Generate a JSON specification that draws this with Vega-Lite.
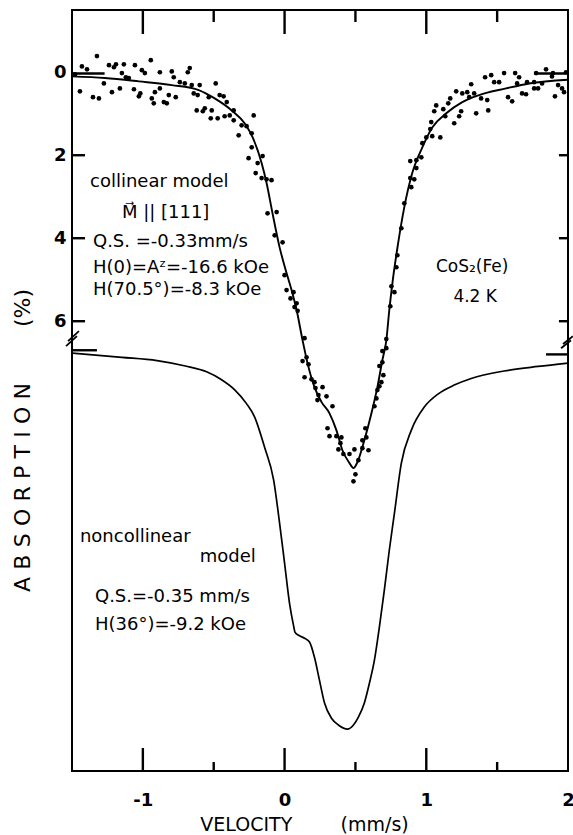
{
  "$schema": "https://vega.github.io/schema/vega-lite/v6.json",
  "width": 496,
  "height": 761,
  "autosize": {"type": "none"},
  "padding": {"left": 72, "top": 10, "right": 5, "bottom": 64},
  "background": "white",
  "config": {
    "view": {"stroke": "black", "strokeWidth": 2},
    "font": "DejaVu Sans",
    "axis": {"domain": false, "grid": false, "tickOpacity": 0, "labelColor": "black", "titleColor": "black", "labelFont": "DejaVu Sans", "titleFont": "DejaVu Sans", "titleFontWeight": "normal"},
    "text": {"font": "DejaVu Sans", "fontSize": 18, "color": "black"}
  },
  "datasets": {
    "fit": [
      {"v": -1.5, "a": 0.1}, {"v": -1.268, "a": 0.14}, {"v": -1.028, "a": 0.22}, {"v": -0.796, "a": 0.31},
      {"v": -0.606, "a": 0.43}, {"v": -0.493, "a": 0.63}, {"v": -0.373, "a": 0.92}, {"v": -0.282, "a": 1.23},
      {"v": -0.225, "a": 1.57}, {"v": -0.162, "a": 2.19}, {"v": -0.127, "a": 2.67}, {"v": -0.085, "a": 3.4},
      {"v": -0.035, "a": 4.22}, {"v": 0.014, "a": 4.84}, {"v": 0.056, "a": 5.33}, {"v": 0.085, "a": 5.73},
      {"v": 0.127, "a": 6.46}, {"v": 0.162, "a": 7.01}, {"v": 0.211, "a": 7.59}, {"v": 0.261, "a": 7.95},
      {"v": 0.317, "a": 8.22}, {"v": 0.366, "a": 8.63}, {"v": 0.408, "a": 9.11}, {"v": 0.458, "a": 9.42},
      {"v": 0.486, "a": 9.54}, {"v": 0.514, "a": 9.4}, {"v": 0.563, "a": 8.87}, {"v": 0.613, "a": 8.22},
      {"v": 0.655, "a": 7.59}, {"v": 0.69, "a": 6.94}, {"v": 0.718, "a": 6.46}, {"v": 0.739, "a": 5.73},
      {"v": 0.761, "a": 5.08}, {"v": 0.8, "a": 4.15}, {"v": 0.845, "a": 3.25}, {"v": 0.901, "a": 2.43},
      {"v": 0.972, "a": 1.81}, {"v": 1.042, "a": 1.33}, {"v": 1.141, "a": 0.99}, {"v": 1.254, "a": 0.72},
      {"v": 1.373, "a": 0.55}, {"v": 1.563, "a": 0.39}, {"v": 1.725, "a": 0.27}, {"v": 2.0, "a": 0.18}
    ],
    "measured": [
      {"v": -1.479, "a": 0.05}, {"v": -1.444, "a": 0.46}, {"v": -1.43, "a": -0.14}, {"v": -1.394, "a": -0.07},
      {"v": -1.352, "a": 0.6}, {"v": -1.324, "a": -0.39}, {"v": -1.31, "a": 0.63}, {"v": -1.275, "a": 0.27},
      {"v": -1.239, "a": -0.17}, {"v": -1.218, "a": 0.48}, {"v": -1.204, "a": -0.12}, {"v": -1.19, "a": -0.19},
      {"v": -1.162, "a": 0.39}, {"v": -1.148, "a": 0.02}, {"v": -1.134, "a": -0.19}, {"v": -1.12, "a": 0.12},
      {"v": -1.099, "a": 0.14}, {"v": -1.063, "a": 0.41}, {"v": -1.056, "a": -0.17}, {"v": -1.028, "a": 0.58},
      {"v": -1.018, "a": 0.51}, {"v": -1.007, "a": -0.05}, {"v": -0.986, "a": 0.02}, {"v": -0.944, "a": -0.29},
      {"v": -0.937, "a": 0.63}, {"v": -0.923, "a": 0.75}, {"v": -0.915, "a": 0.48}, {"v": -0.88, "a": 0.0},
      {"v": -0.88, "a": 0.39}, {"v": -0.852, "a": 0.72}, {"v": -0.831, "a": 0.75}, {"v": -0.817, "a": 0.55},
      {"v": -0.796, "a": -0.02}, {"v": -0.782, "a": 0.12}, {"v": -0.768, "a": 0.6}, {"v": -0.739, "a": 0.24},
      {"v": -0.704, "a": 0.27}, {"v": -0.683, "a": 0.0}, {"v": -0.669, "a": -0.1}, {"v": -0.655, "a": 0.31},
      {"v": -0.641, "a": 0.51}, {"v": -0.613, "a": 0.55}, {"v": -0.599, "a": 0.31}, {"v": -0.62, "a": 0.92},
      {"v": -0.577, "a": 0.94}, {"v": -0.563, "a": 0.87}, {"v": -0.535, "a": 0.6}, {"v": -0.514, "a": 0.92},
      {"v": -0.521, "a": 1.11}, {"v": -0.486, "a": 0.27}, {"v": -0.472, "a": 1.11}, {"v": -0.458, "a": 0.55},
      {"v": -0.43, "a": 0.58}, {"v": -0.408, "a": 0.72}, {"v": -0.423, "a": 1.06}, {"v": -0.387, "a": 1.04},
      {"v": -0.359, "a": 0.92}, {"v": -0.359, "a": 1.16}, {"v": -0.303, "a": 1.28}, {"v": -0.268, "a": 1.3},
      {"v": -0.218, "a": 1.04}, {"v": -0.324, "a": 1.52}, {"v": -0.232, "a": 1.47}, {"v": -0.232, "a": 1.81},
      {"v": -0.254, "a": 2.07}, {"v": -0.155, "a": 2.02}, {"v": -0.19, "a": 2.19}, {"v": -0.204, "a": 2.43},
      {"v": -0.162, "a": 2.55}, {"v": -0.127, "a": 2.58}, {"v": -0.092, "a": 2.6}, {"v": -0.12, "a": 3.4},
      {"v": -0.056, "a": 3.37}, {"v": -0.07, "a": 3.93}, {"v": -0.014, "a": 4.1}, {"v": 0.0, "a": 4.89},
      {"v": 0.014, "a": 5.25}, {"v": 0.063, "a": 5.3}, {"v": 0.042, "a": 5.45}, {"v": 0.085, "a": 5.57},
      {"v": 0.07, "a": 5.66}, {"v": 0.092, "a": 5.75}, {"v": 0.141, "a": 6.41}, {"v": 0.127, "a": 6.96},
      {"v": 0.155, "a": 6.87}, {"v": 0.169, "a": 7.04}, {"v": 0.141, "a": 7.35}, {"v": 0.19, "a": 7.4},
      {"v": 0.211, "a": 7.47}, {"v": 0.218, "a": 7.61}, {"v": 0.268, "a": 7.59}, {"v": 0.296, "a": 7.81},
      {"v": 0.239, "a": 7.78}, {"v": 0.232, "a": 7.9}, {"v": 0.338, "a": 8.05}, {"v": 0.303, "a": 8.58},
      {"v": 0.317, "a": 8.77}, {"v": 0.366, "a": 8.77}, {"v": 0.401, "a": 8.8}, {"v": 0.394, "a": 8.94},
      {"v": 0.38, "a": 9.09}, {"v": 0.415, "a": 9.2}, {"v": 0.458, "a": 9.2}, {"v": 0.493, "a": 9.09},
      {"v": 0.5, "a": 9.69}, {"v": 0.486, "a": 9.86}, {"v": 0.521, "a": 9.35}, {"v": 0.549, "a": 9.06},
      {"v": 0.549, "a": 8.87}, {"v": 0.57, "a": 8.58}, {"v": 0.592, "a": 9.11}, {"v": 0.577, "a": 8.8},
      {"v": 0.634, "a": 8.05}, {"v": 0.648, "a": 7.86}, {"v": 0.655, "a": 7.66}, {"v": 0.669, "a": 7.57},
      {"v": 0.683, "a": 7.47}, {"v": 0.697, "a": 7.3}, {"v": 0.669, "a": 7.08}, {"v": 0.69, "a": 6.99},
      {"v": 0.69, "a": 6.72}, {"v": 0.718, "a": 6.65}, {"v": 0.718, "a": 6.43}, {"v": 0.746, "a": 5.64},
      {"v": 0.754, "a": 5.16}, {"v": 0.775, "a": 5.3}, {"v": 0.789, "a": 4.7}, {"v": 0.796, "a": 4.41},
      {"v": 0.824, "a": 3.76}, {"v": 0.845, "a": 3.16}, {"v": 0.887, "a": 2.55}, {"v": 0.915, "a": 2.58},
      {"v": 0.894, "a": 2.77}, {"v": 0.93, "a": 2.31}, {"v": 0.887, "a": 2.14}, {"v": 0.93, "a": 2.12},
      {"v": 0.965, "a": 2.05}, {"v": 0.972, "a": 1.71}, {"v": 1.0, "a": 1.57}, {"v": 1.042, "a": 1.54},
      {"v": 1.099, "a": 1.57}, {"v": 1.028, "a": 1.37}, {"v": 1.035, "a": 1.2}, {"v": 1.056, "a": 0.94},
      {"v": 1.07, "a": 0.8}, {"v": 1.12, "a": 0.89}, {"v": 1.155, "a": 0.75}, {"v": 1.169, "a": 0.63},
      {"v": 1.134, "a": 1.06}, {"v": 1.197, "a": 1.23}, {"v": 1.232, "a": 1.06}, {"v": 1.246, "a": 0.94},
      {"v": 1.211, "a": 0.46}, {"v": 1.254, "a": 0.51}, {"v": 1.289, "a": 0.48}, {"v": 1.317, "a": 0.29},
      {"v": 1.303, "a": 0.6}, {"v": 1.338, "a": 0.51}, {"v": 1.352, "a": 0.99}, {"v": 1.387, "a": 0.63},
      {"v": 1.415, "a": 0.12}, {"v": 1.43, "a": 0.67}, {"v": 1.437, "a": 0.92}, {"v": 1.458, "a": 0.07},
      {"v": 1.479, "a": 0.24}, {"v": 1.514, "a": 0.24}, {"v": 1.549, "a": 0.02}, {"v": 1.577, "a": 0.6},
      {"v": 1.606, "a": 0.7}, {"v": 1.627, "a": 0.02}, {"v": 1.655, "a": 0.12}, {"v": 1.641, "a": 0.27},
      {"v": 1.676, "a": 0.51}, {"v": 1.704, "a": 0.53}, {"v": 1.711, "a": 0.24}, {"v": 1.761, "a": 0.24},
      {"v": 1.775, "a": 0.02}, {"v": 1.761, "a": 0.39}, {"v": 1.789, "a": 0.39}, {"v": 1.817, "a": 0.27},
      {"v": 1.845, "a": -0.07}, {"v": 1.887, "a": 0.1}, {"v": 1.894, "a": 0.02}, {"v": 1.908, "a": 0.58},
      {"v": 1.93, "a": 0.31}, {"v": 1.958, "a": 0.39}, {"v": 1.972, "a": 0.48}, {"v": 1.986, "a": 0.0}
    ],
    "noncollinear": [
      {"v": -1.5, "a": 6.77}, {"v": -1.148, "a": 6.87}, {"v": -0.9, "a": 6.95}, {"v": -0.7, "a": 7.08},
      {"v": -0.55, "a": 7.22}, {"v": -0.45, "a": 7.4}, {"v": -0.35, "a": 7.66}, {"v": -0.27, "a": 7.98},
      {"v": -0.211, "a": 8.31}, {"v": -0.141, "a": 9.04}, {"v": -0.077, "a": 9.83}, {"v": -0.035, "a": 10.87},
      {"v": 0.0, "a": 11.83}, {"v": 0.035, "a": 12.8}, {"v": 0.063, "a": 13.33}, {"v": 0.074, "a": 13.5},
      {"v": 0.099, "a": 13.57}, {"v": 0.141, "a": 13.64}, {"v": 0.176, "a": 13.73}, {"v": 0.211, "a": 14.1},
      {"v": 0.246, "a": 14.65}, {"v": 0.282, "a": 15.2}, {"v": 0.331, "a": 15.57}, {"v": 0.38, "a": 15.73},
      {"v": 0.444, "a": 15.83}, {"v": 0.486, "a": 15.73}, {"v": 0.521, "a": 15.54}, {"v": 0.563, "a": 15.2},
      {"v": 0.599, "a": 14.72}, {"v": 0.634, "a": 14.17}, {"v": 0.669, "a": 13.37}, {"v": 0.704, "a": 12.48},
      {"v": 0.739, "a": 11.52}, {"v": 0.775, "a": 10.63}, {"v": 0.824, "a": 9.42}, {"v": 0.894, "a": 8.63},
      {"v": 0.986, "a": 8.07}, {"v": 1.085, "a": 7.75}, {"v": 1.197, "a": 7.54}, {"v": 1.317, "a": 7.38},
      {"v": 1.549, "a": 7.2}, {"v": 1.789, "a": 7.09}, {"v": 2.0, "a": 7.01}
    ],
    "segments": [
      {"v1": -1.5, "v2": -1.27, "a1": 0.03, "a2": 0.03, "w": "thick"},
      {"v1": 1.76, "v2": 2.0, "a1": 0.03, "a2": 0.03, "w": "thick"},
      {"v1": -1.5, "v2": -1.324, "a1": 6.7, "a2": 6.7, "w": "thick"},
      {"v1": 1.845, "v2": 2.0, "a1": 6.8, "a2": 6.8, "w": "thick"},
      {"v1": -1.542, "v2": -1.465, "a1": 6.6, "a2": 6.36, "w": "thin"},
      {"v1": -1.528, "v2": -1.451, "a1": 6.48, "a2": 6.24, "w": "thin"},
      {"v1": 1.951, "v2": 2.021, "a1": 6.65, "a2": 6.46, "w": "thin"},
      {"v1": 1.965, "v2": 2.035, "a1": 6.55, "a2": 6.36, "w": "thin"}
    ],
    "tickPaths": [
      {"id": "b1", "k": 0, "v": -1, "a": 16.84}, {"id": "b1", "k": 1, "v": -1, "a": 16.286},
      {"id": "b2", "k": 0, "v": 0, "a": 16.84}, {"id": "b2", "k": 1, "v": 0, "a": 16.286},
      {"id": "b3", "k": 0, "v": 1, "a": 16.84}, {"id": "b3", "k": 1, "v": 1, "a": 16.286},
      {"id": "b4", "k": 0, "v": -0.5, "a": 16.84}, {"id": "b4", "k": 1, "v": -0.5, "a": 16.623},
      {"id": "b5", "k": 0, "v": 0.5, "a": 16.84}, {"id": "b5", "k": 1, "v": 0.5, "a": 16.623},
      {"id": "b6", "k": 0, "v": 1.5, "a": 16.84}, {"id": "b6", "k": 1, "v": 1.5, "a": 16.623},
      {"id": "t1", "k": 0, "v": -1, "a": -1.5}, {"id": "t1", "k": 1, "v": -1, "a": -0.922},
      {"id": "t2", "k": 0, "v": 0, "a": -1.5}, {"id": "t2", "k": 1, "v": 0, "a": -0.922},
      {"id": "t3", "k": 0, "v": 1, "a": -1.5}, {"id": "t3", "k": 1, "v": 1, "a": -0.922},
      {"id": "t4", "k": 0, "v": -0.5, "a": -1.5}, {"id": "t4", "k": 1, "v": -0.5, "a": -1.211},
      {"id": "t5", "k": 0, "v": 0.5, "a": -1.5}, {"id": "t5", "k": 1, "v": 0.5, "a": -1.211},
      {"id": "t6", "k": 0, "v": 1.5, "a": -1.5}, {"id": "t6", "k": 1, "v": 1.5, "a": -1.211},
      {"id": "l2", "k": 0, "v": -1.5, "a": 2}, {"id": "l2", "k": 1, "v": -1.408, "a": 2},
      {"id": "l4", "k": 0, "v": -1.5, "a": 4}, {"id": "l4", "k": 1, "v": -1.408, "a": 4},
      {"id": "l6", "k": 0, "v": -1.5, "a": 6}, {"id": "l6", "k": 1, "v": -1.408, "a": 6},
      {"id": "r2", "k": 0, "v": 2, "a": 2}, {"id": "r2", "k": 1, "v": 1.936, "a": 2},
      {"id": "r4", "k": 0, "v": 2, "a": 4}, {"id": "r4", "k": 1, "v": 1.936, "a": 4},
      {"id": "r6", "k": 0, "v": 2, "a": 6}, {"id": "r6", "k": 1, "v": 1.936, "a": 6}
    ],
    "notesLeft": [
      {"v": -1.373, "a": 2.65, "label": "collinear model"},
      {"v": -1.148, "a": 3.4, "label": "M⃗ || [111]"},
      {"v": -1.352, "a": 4.1, "label": "Q.S. =-0.33mm/s"},
      {"v": -1.352, "a": 4.72, "label": "H(0)=Aᶻ=-16.6 kOe"},
      {"v": -1.352, "a": 5.25, "label": "H(70.5°)=-8.3 kOe"},
      {"v": -1.444, "a": 11.2, "label": "noncollinear"},
      {"v": -0.599, "a": 11.69, "label": "model"},
      {"v": -1.338, "a": 12.65, "label": "Q.S.=-0.35 mm/s"},
      {"v": -1.338, "a": 13.33, "label": "H(36°)=-9.2 kOe"}
    ],
    "notesCenter": [
      {"v": 1.324, "a": 4.7, "label": "CoS₂(Fe)"},
      {"v": 1.345, "a": 5.42, "label": "4.2 K"}
    ]
  },
  "resolve": {"axis": {"x": "independent", "y": "independent"}},
  "layer": [
    {
      "data": {"name": "fit"},
      "mark": {"type": "line", "color": "black", "strokeWidth": 1.9, "interpolate": "monotone"},
      "encoding": {
        "x": {"field": "v", "type": "quantitative", "scale": {"domain": [-1.5, 2], "nice": false, "zero": false},
          "axis": {"orient": "bottom", "values": [-1, 0, 1, 2], "offset": -23, "tickSize": 23,
            "labelExpr": "datum.value < 0 ? '-' + abs(datum.value) : '' + datum.value",
            "labelFontSize": 18, "labelFontWeight": "bold", "labelPadding": 20, "labelFlush": false,
            "title": "VELOCITY\u00a0\u00a0\u00a0\u00a0\u00a0\u00a0\u00a0\u00a0(mm/s)", "titleFontSize": 19, "titleX": 232, "titleY": 76, "titleBaseline": "middle"}},
        "y": {"field": "a", "type": "quantitative", "scale": {"domain": [-1.5, 16.84], "reverse": true, "nice": false, "zero": false},
          "axis": {"orient": "left", "values": [0, 2, 4, 6], "offset": -13, "tickSize": 13, "labelFontSize": 18, "labelFontWeight": "bold", "labelPadding": 6,
            "title": "A\u2004B\u2004S\u2004O\u2004R\u2004P\u2004T\u2004I\u2004O\u2004N\u00a0\u00a0\u00a0\u00a0\u00a0\u00a0\u00a0\u00a0(%)", "titleFontSize": 22, "titleX": -63, "titleY": 430, "titleAngle": 270, "titleBaseline": "middle", "titleAlign": "center"}}
      }
    },
    {
      "data": {"name": "measured"},
      "mark": {"type": "circle", "color": "black", "opacity": 1, "size": 22},
      "encoding": {
        "x": {"field": "v", "type": "quantitative", "axis": null},
        "y": {"field": "a", "type": "quantitative", "axis": null}
      }
    },
    {
      "data": {"name": "noncollinear"},
      "mark": {"type": "line", "color": "black", "strokeWidth": 1.7, "interpolate": "monotone"},
      "encoding": {
        "x": {"field": "v", "type": "quantitative", "axis": null},
        "y": {"field": "a", "type": "quantitative", "axis": null}
      }
    },
    {
      "data": {"name": "tickPaths"},
      "mark": {"type": "line", "color": "black", "strokeWidth": 2.4},
      "encoding": {
        "x": {"field": "v", "type": "quantitative", "axis": null},
        "y": {"field": "a", "type": "quantitative", "axis": null},
        "detail": {"field": "id", "type": "nominal"},
        "order": {"field": "k", "type": "quantitative"}
      }
    },
    {
      "data": {"name": "segments"},
      "mark": {"type": "rule", "color": "black"},
      "encoding": {
        "x": {"field": "v1", "type": "quantitative", "axis": null},
        "x2": {"field": "v2"},
        "y": {"field": "a1", "type": "quantitative", "axis": null},
        "y2": {"field": "a2"},
        "strokeWidth": {"field": "w", "type": "nominal", "scale": {"domain": ["thin", "thick"], "range": [1.8, 2.4]}, "legend": null}
      }
    },
    {
      "data": {"name": "notesLeft"},
      "mark": {"type": "text", "align": "left", "baseline": "middle"},
      "encoding": {
        "x": {"field": "v", "type": "quantitative", "axis": null},
        "y": {"field": "a", "type": "quantitative", "axis": null},
        "text": {"field": "label"}
      }
    },
    {
      "data": {"name": "notesCenter"},
      "mark": {"type": "text", "align": "center", "baseline": "middle", "fontSize": 17},
      "encoding": {
        "x": {"field": "v", "type": "quantitative", "axis": null},
        "y": {"field": "a", "type": "quantitative", "axis": null},
        "text": {"field": "label"}
      }
    }
  ]
}
